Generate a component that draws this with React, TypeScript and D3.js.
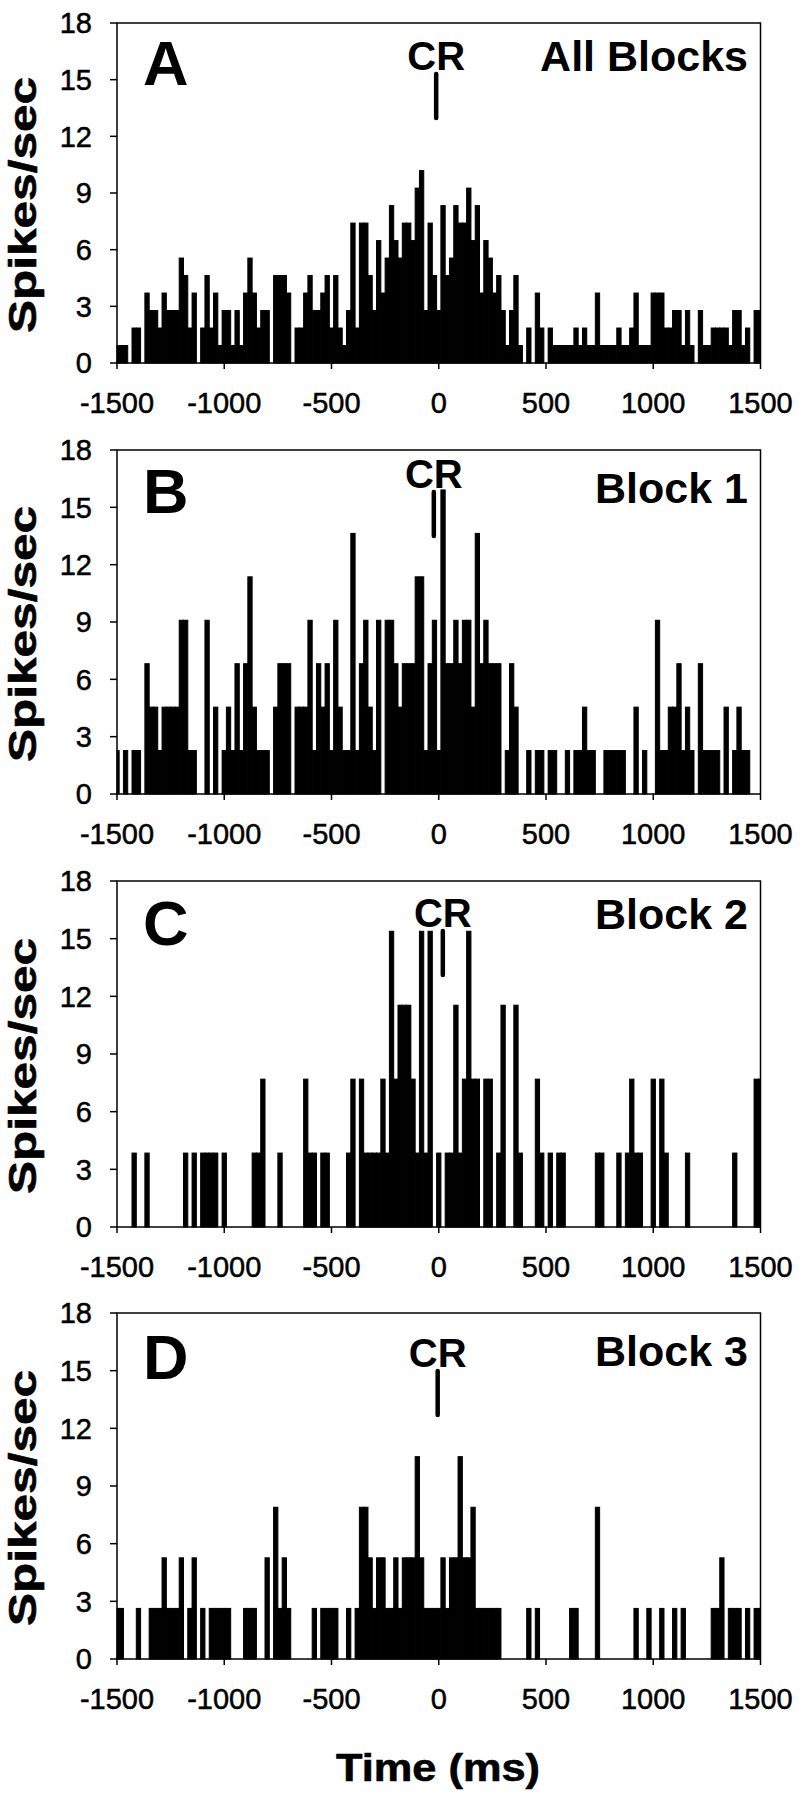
import React from "react";
import * as d3 from "d3";

// ---- data: spike counts per 20 ms bin, bins centred at -1500, -1480, ..., 1500 ms ----
const binWidthMs = 20;
const binCenters: number[] = d3.range(-1500, 1501, binWidthMs);

const allBlocksCounts = [
  1, 1, 1, 0, 2, 2, 0, 4, 3, 3,
  2, 4, 3, 3, 3, 6, 5, 2, 4, 0,
  2, 5, 2, 4, 1, 3, 3, 1, 3, 1,
  4, 6, 4, 2, 3, 3, 0, 5, 5, 5,
  4, 0, 2, 2, 4, 5, 3, 3, 4, 5,
  2, 5, 2, 1, 3, 8, 2, 8, 8, 5,
  3, 7, 4, 6, 9, 7, 6, 8, 8, 7,
  10, 11, 3, 8, 5, 3, 9, 5, 6, 9,
  8, 8, 10, 7, 9, 4, 7, 6, 4, 5,
  3, 1, 3, 5, 1, 0, 2, 0, 4, 2,
  0, 2, 1, 1, 1, 1, 1, 2, 1, 2,
  1, 1, 4, 1, 1, 1, 1, 2, 1, 1,
  2, 4, 1, 1, 1, 4, 4, 4, 2, 2,
  3, 3, 1, 3, 1, 0, 3, 1, 1, 2,
  2, 2, 2, 1, 3, 3, 1, 2, 0, 3,
  3,
];

const block1Counts = [
  1, 0, 1, 0, 1, 1, 0, 3, 2, 2,
  1, 2, 2, 2, 2, 4, 4, 1, 1, 0,
  0, 4, 0, 2, 0, 1, 2, 1, 3, 1,
  3, 5, 2, 1, 1, 1, 0, 2, 3, 3,
  3, 0, 2, 2, 2, 4, 1, 3, 2, 3,
  1, 4, 2, 1, 1, 6, 1, 3, 4, 2,
  1, 4, 0, 4, 4, 3, 2, 3, 3, 3,
  5, 5, 1, 3, 4, 1, 7, 3, 3, 4,
  3, 4, 4, 2, 6, 3, 4, 3, 3, 3,
  0, 1, 3, 2, 0, 0, 1, 0, 1, 1,
  0, 1, 1, 0, 0, 1, 0, 1, 1, 2,
  1, 1, 0, 0, 1, 1, 1, 1, 1, 0,
  0, 2, 0, 1, 0, 0, 4, 1, 1, 2,
  2, 3, 1, 2, 1, 0, 3, 1, 1, 1,
  1, 0, 2, 0, 1, 2, 1, 1, 0, 0,
  0,
];

const block2Counts = [
  0, 0, 0, 0, 1, 0, 0, 1, 0, 0,
  0, 0, 0, 0, 0, 0, 1, 0, 1, 0,
  1, 1, 1, 1, 0, 1, 0, 0, 0, 0,
  0, 0, 1, 1, 2, 0, 0, 0, 1, 0,
  0, 0, 0, 0, 2, 1, 1, 0, 1, 1,
  0, 0, 0, 0, 1, 2, 0, 2, 1, 1,
  1, 1, 2, 1, 4, 2, 3, 3, 3, 2,
  1, 4, 1, 4, 0, 1, 0, 1, 1, 3,
  1, 2, 4, 2, 2, 0, 2, 2, 0, 1,
  3, 0, 0, 3, 1, 0, 0, 0, 2, 1,
  0, 1, 0, 1, 1, 0, 0, 0, 0, 0,
  0, 0, 1, 1, 0, 0, 0, 1, 0, 1,
  2, 1, 1, 0, 0, 2, 0, 2, 1, 0,
  0, 0, 0, 1, 0, 0, 0, 0, 0, 0,
  0, 0, 0, 0, 1, 0, 0, 0, 0, 2,
  2,
];

const block3Counts = [
  1, 1, 0, 0, 0, 1, 0, 0, 1, 1,
  1, 2, 1, 1, 1, 2, 0, 1, 2, 0,
  1, 0, 1, 1, 1, 1, 1, 0, 0, 0,
  1, 1, 1, 0, 0, 2, 0, 3, 1, 2,
  1, 0, 0, 0, 0, 0, 1, 0, 1, 1,
  1, 1, 0, 0, 1, 0, 1, 3, 3, 2,
  1, 2, 2, 1, 1, 2, 1, 2, 2, 2,
  4, 2, 1, 1, 1, 1, 2, 1, 2, 2,
  4, 2, 2, 3, 1, 1, 1, 1, 1, 1,
  0, 0, 0, 0, 0, 0, 1, 0, 1, 0,
  0, 0, 0, 0, 0, 0, 1, 1, 0, 0,
  0, 0, 3, 0, 0, 0, 0, 0, 0, 0,
  0, 1, 0, 0, 1, 0, 0, 1, 0, 0,
  1, 0, 1, 0, 0, 0, 0, 0, 0, 1,
  1, 2, 0, 1, 1, 1, 0, 1, 0, 1,
  1,
];

// number of trials per panel (count -> spikes/sec = count / (trials * bin s))
const trialsPerPanel = [54, 22, 13, 19];
const panelLetters = ["A", "B", "C", "D"];
const panelTitles = ["All Blocks", "Block 1", "Block 2", "Block 3"];
const crTimesMs = [-12, -23, 19, -5];
const yTicks = [0, 3, 6, 9, 12, 15, 18];
const xTicks = [-1500, -1000, -500, 0, 500, 1000, 1500];
const panelCounts = [allBlocksCounts, block1Counts, block2Counts, block3Counts];

// ---- layout ----
const W = 800;
const H = 1800;
const LEFT = 117;
const RIGHT = 760.5;
const panelTops = [23, 450, 881, 1313];
const panelBottoms = [363, 794, 1227, 1659];
const letterBase = [62, 63, 64, 66];
const crBase = [47, 38, 46, 54];
const titleBase = [48, 53, 48, 53];
const FONT = "'Liberation Sans', Arial, Helvetica, sans-serif";

function Panel({ i }: { i: number }) {
  const top = panelTops[i];
  const bottom = panelBottoms[i];
  const x = d3.scaleLinear().domain([-1500, 1500]).range([LEFT, RIGHT]);
  const y = d3.scaleLinear().domain([0, 18]).range([bottom, top]);
  const counts = panelCounts[i];
  const rateFactor = 1 / (trialsPerPanel[i] * (binWidthMs / 1000));
  const half = binWidthMs / 2;

  const bars = binCenters.map((t, k) => {
    const c = counts[k];
    if (!c) return null;
    const x0 = Math.max(x(t - half), LEFT);
    const x1 = Math.min(x(t + half), RIGHT);
    const yv = y(c * rateFactor);
    return (
      <rect
        key={k}
        x={x0}
        y={yv}
        width={x1 - x0}
        height={bottom - yv}
        fill="#000"
        stroke="#000"
        strokeWidth={1}
      />
    );
  });

  const crX = x(crTimesMs[i]);
  const midY = (top + bottom) / 2;

  return (
    <g>
      {bars}
      {/* frame */}
      <rect
        x={LEFT}
        y={top}
        width={RIGHT - LEFT}
        height={bottom - top}
        fill="none"
        stroke="#000"
        strokeWidth={1.5}
      />
      {/* y ticks */}
      {yTicks.map((v) => (
        <g key={v}>
          <line x1={LEFT - 7} x2={LEFT} y1={y(v)} y2={y(v)} stroke="#000" strokeWidth={1.5} />
          <text
            x={92}
            y={y(v)}
            dy="0.36em"
            textAnchor="end"
            fontSize={29}
            fontFamily={FONT}
            stroke="#000"
            strokeWidth={0.5}
          >
            {v}
          </text>
        </g>
      ))}
      {/* x ticks */}
      {xTicks.map((v) => (
        <g key={v}>
          <line x1={x(v)} x2={x(v)} y1={bottom} y2={bottom + 6} stroke="#000" strokeWidth={1.5} />
          <text
            x={x(v)}
            y={bottom + 50}
            textAnchor="middle"
            fontSize={29}
            fontFamily={FONT}
            stroke="#000"
            strokeWidth={0.5}
          >
            {v}
          </text>
        </g>
      ))}
      {/* panel letter */}
      <text x={143} y={top + letterBase[i]} fontSize={63} fontWeight="bold" fontFamily={FONT}>
        {panelLetters[i]}
      </text>
      {/* title */}
      <text
        x={748}
        y={top + titleBase[i]}
        textAnchor="end"
        fontSize={43}
        fontWeight="bold"
        fontFamily={FONT}
      >
        {panelTitles[i]}
      </text>
      {/* CR marker */}
      <text
        x={crX}
        y={top + crBase[i]}
        textAnchor="middle"
        fontSize={40}
        fontWeight="bold"
        fontFamily={FONT}
      >
        CR
      </text>
      <line
        x1={crX}
        x2={crX}
        y1={top + crBase[i] + 4}
        y2={top + crBase[i] + 48}
        stroke="#000"
        strokeWidth={4.5}
        strokeLinecap="round"
      />
      {/* y label */}
      <text
        transform={`translate(36, ${midY + 12}) rotate(-90)`}
        textAnchor="middle"
        fontSize={38}
        fontWeight="bold"
        fontFamily={FONT}
        textLength={256}
        lengthAdjust="spacingAndGlyphs"
        stroke="#000"
        strokeWidth={0.6}
      >
        Spikes/sec
      </text>
    </g>
  );
}

export default function App() {
  return (
    <svg
      width={W}
      height={H}
      viewBox={`0 0 ${W} ${H}`}
      style={{ position: "absolute", left: 0, top: 0, background: "#fff" }}
    >
      <rect x={0} y={0} width={W} height={H} fill="#fff" />
      {panelLetters.map((_, i) => (
        <Panel key={i} i={i} />
      ))}
      <text
        x={438}
        y={1781}
        textAnchor="middle"
        fontSize={38}
        fontWeight="bold"
        fontFamily={FONT}
        textLength={204}
        lengthAdjust="spacingAndGlyphs"
        stroke="#000"
        strokeWidth={0.6}
      >
        Time (ms)
      </text>
    </svg>
  );
}
